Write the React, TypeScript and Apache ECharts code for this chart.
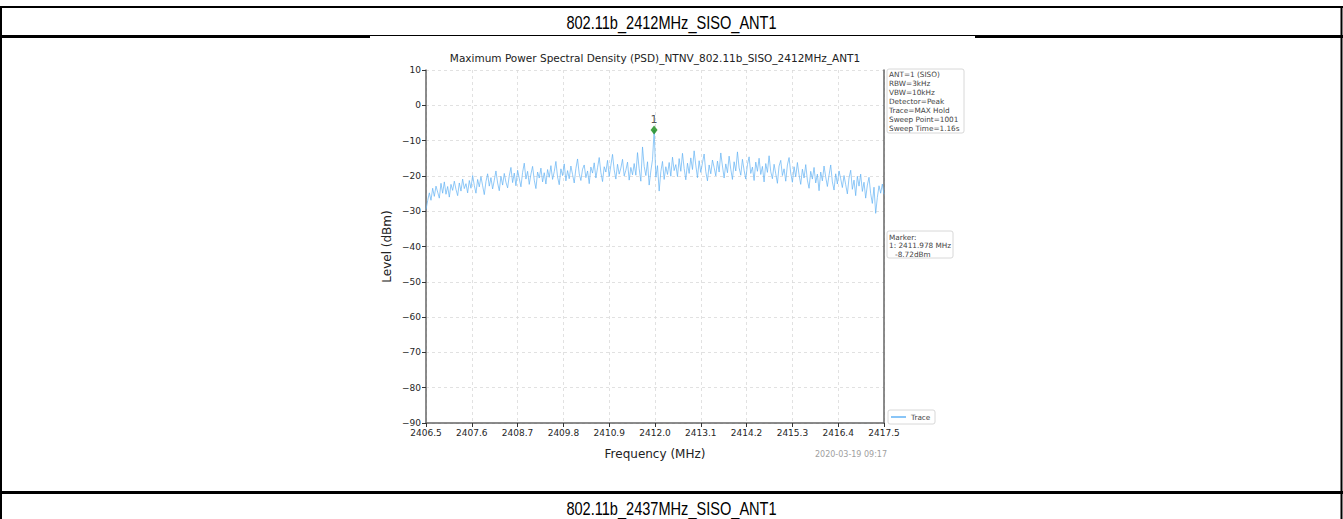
import React, { useEffect, useRef } from "react";
import * as echarts from "echarts";

// ---- data ----
const startFreq = 2406.5; // MHz
const stopFreq = 2417.5; // MHz
const xTickStep = 1.1; // MHz
const yMin = -90;
const yMax = 10;
const yStep = 10;

// Trace level (dBm), evenly spaced sweep points from startFreq to stopFreq
const traceLevels: number[] = [
  -29.5, -27.0, -24.8, -26.9, -23.5, -25.8, -22.9, -24.6, -26.3, -22.1, -24.9, -21.7, -25.2, -23.0, -26.0, -22.4, -24.1, -21.5, -23.8, -25.6, -22.0, -24.3, -20.9, -23.6, -22.2,
  -24.8, -21.3, -23.5, -19.9, -22.7, -24.9, -21.0, -23.1, -20.2, -22.8, -25.3, -21.6, -19.4, -22.9, -20.5, -23.7, -21.2, -18.6, -22.0, -24.2, -20.1, -22.6, -19.3, -21.8, -23.4,
  -20.0, -17.6, -21.9, -19.2, -22.8, -18.4, -20.7, -23.1, -19.0, -16.4, -20.9, -18.7, -22.4, -19.5, -17.3, -21.2, -23.6, -18.9, -20.6, -17.8, -21.7, -19.1, -22.3, -18.2, -20.4,
  -17.1, -21.0, -18.8, -15.9, -20.3, -22.5, -18.0, -19.9, -16.6, -21.4, -18.5, -20.8, -17.2, -19.6, -22.0, -17.9, -15.2, -19.4, -21.3, -18.1, -16.9, -20.5, -18.6, -22.2, -17.5,
  -19.2, -16.3, -20.6, -17.7, -14.8, -19.0, -21.6, -17.4, -18.9, -15.6, -20.2, -17.0, -13.9, -18.3, -20.9, -16.7, -19.5, -17.8, -15.3, -20.0, -18.4, -16.1, -21.2, -17.6, -19.7,
  -16.5, -19.8, -13.4, -18.0, -21.5, -11.8, -17.3, -19.9, -16.0, -22.6, -18.6, -15.4, -7.0, -20.4, -17.1, -24.3, -18.8, -15.9, -21.0, -17.4, -19.6, -16.2, -20.1, -14.7, -18.5,
  -16.8, -20.2, -15.1, -18.7, -13.6, -17.9, -21.1, -16.4, -19.3, -14.9, -18.2, -12.9, -17.0, -20.5, -15.7, -19.0, -16.3, -13.8, -18.8, -21.4, -16.9, -19.4, -15.5, -17.6, -20.0,
  -15.8, -18.9, -13.5, -17.2, -20.6, -16.6, -19.1, -14.4, -18.1, -21.0, -16.0, -18.6, -13.2, -17.7, -19.8, -15.3, -18.4, -20.9, -16.8, -14.6, -19.3, -17.5, -21.3, -16.1, -18.7,
  -15.0, -19.6, -17.3, -21.7, -16.5, -19.0, -14.3, -18.8, -20.8, -16.7, -19.4, -22.1, -17.2, -15.6, -19.9, -18.0, -21.5, -16.9, -14.8, -19.2, -21.8, -17.4, -20.3, -16.2, -19.7,
  -22.4, -18.1, -20.6, -16.8, -21.2, -23.5, -18.7, -20.9, -17.6, -22.0, -19.5, -24.2, -18.9, -21.4, -17.2, -20.3, -23.0, -19.8, -16.9, -21.7, -24.0, -19.4, -22.3, -18.6, -20.8,
  -23.3, -19.9, -22.5, -25.1, -20.6, -18.4, -23.8, -21.2, -25.6, -20.1, -22.9, -19.5, -24.4, -21.8, -26.3, -22.6, -20.4, -25.0, -27.8, -23.2, -30.6, -26.1, -22.8, -24.9, -22.3, -25.2,
];

const markerFreq = 2411.978; // MHz
const markerDotLevel = -7.0; // dBm (where the dot is drawn)
const markerLabel = "1";

const headerTop = "802.11b_2412MHz_SISO_ANT1";
const headerBottom = "802.11b_2437MHz_SISO_ANT1";
const chartTitle = "Maximum Power Spectral Density (PSD)_NTNV_802.11b_SISO_2412MHz_ANT1";
const infoLines = [
  "ANT=1 (SISO)",
  "RBW=3kHz",
  "VBW=10kHz",
  "Detector=Peak",
  "Trace=MAX Hold",
  "Sweep Point=1001",
  "Sweep Time=1.16s",
];
const markerLines = ["Marker:", "1: 2411.978 MHz", "-8.72dBm"];
const legendName = "Trace";
const timestamp = "2020-03-19 09:17";
const xName = "Frequency (MHz)";
const yName = "Level (dBm)";

const W = 1343;
const H = 519;
const TRACE_COLOR = "#62b2f4";
const FONT = "DejaVu Sans";

export default function App() {
  const ref = useRef<HTMLDivElement>(null);

  useEffect(() => {
    if (!ref.current) return;
    const chart = echarts.init(ref.current, undefined, { renderer: "svg" });

    const span = stopFreq - startFreq;
    const n = traceLevels.length;
    const traceData = traceLevels.map((v, i) => [(i * span) / (n - 1), v]);

    const gridLeft = 426;
    const gridTop = 70;
    const gridW = 458;
    const gridH = 353;

    const fmtNum = (v: number) => (v < 0 ? "\u2212" + Math.abs(v) : String(v));

    const lineEl = (x1: number, y1: number, x2: number, y2: number, w: number, color = "#000") => ({
      type: "line",
      shape: { x1, y1, x2, y2 },
      style: { stroke: color, lineWidth: w },
      silent: true,
    });

    const txt = (
      x: number,
      y: number,
      text: string,
      size: number,
      color: string,
      align = "left",
      family = FONT,
      scaleX = 1
    ) => ({
      type: "text",
      x,
      y,
      scaleX,
      style: {
        text,
        fontSize: size,
        fill: color,
        fontFamily: family,
        align,
        verticalAlign: "middle",
      },
      silent: true,
    });

    const graphics: any[] = [
      // table borders
      lineEl(0, 7, W, 7, 2),
      lineEl(1, 6, 1, H, 2),
      lineEl(W - 1.5, 6, W - 1.5, H, 2),
      lineEl(0, 35.5, W, 35.5, 1),
      lineEl(0, 37, 370, 37, 2),
      lineEl(975, 37, W, 37, 2),
      lineEl(0, 492.5, W, 492.5, 3),
      txt(W / 2, 22, headerTop, 18, "#000", "center", "Liberation Sans", 0.81),
      txt(W / 2, 508, headerBottom, 18, "#000", "center", "Liberation Sans", 0.81),
      // chart title
      txt(gridLeft + gridW / 2, 58, chartTitle, 10.5, "#222", "center"),
      // info box
      {
        type: "rect",
        shape: { x: 887, y: 69, width: 77, height: 64, r: 2 },
        style: { fill: "#fff", stroke: "#d8d8d8", lineWidth: 1 },
        silent: true,
      },
      ...infoLines.map((t, i) => txt(889, 74 + i * 9, t, 7.3, "#444")),
      // marker box
      {
        type: "rect",
        shape: { x: 887, y: 231, width: 66, height: 27, r: 2 },
        style: { fill: "#fff", stroke: "#d8d8d8", lineWidth: 1 },
        silent: true,
      },
      txt(889, 237, markerLines[0], 7.3, "#444"),
      txt(889, 245.5, markerLines[1], 7.3, "#444"),
      txt(895, 254, markerLines[2], 7.3, "#444"),
      // legend box
      {
        type: "rect",
        shape: { x: 888, y: 410, width: 47, height: 14, r: 2 },
        style: { fill: "#fff", stroke: "#d8d8d8", lineWidth: 1 },
        silent: true,
      },
      lineEl(891, 417, 906, 417, 1.5, TRACE_COLOR),
      txt(911, 417, legendName, 7.3, "#444"),
      // timestamp
      txt(851, 454, timestamp, 8, "#a0a0a0", "center"),
    ];

    chart.setOption({
      animation: false,
      backgroundColor: "#ffffff",
      grid: { left: gridLeft, top: gridTop, width: gridW, height: gridH, containLabel: false },
      xAxis: {
        type: "value",
        min: 0,
        max: span,
        interval: xTickStep,
        name: xName,
        nameLocation: "middle",
        nameGap: 25,
        nameTextStyle: { fontSize: 12, color: "#222", fontFamily: FONT },
        axisLine: { show: true, onZero: false, lineStyle: { color: "#666", width: 1.5 } },
        axisTick: { show: true, inside: false, length: 4, lineStyle: { color: "#333", width: 1 } },
        axisLabel: {
          fontSize: 9,
          color: "#262626",
          fontFamily: FONT,
          margin: 5,
          formatter: (v: number) => (startFreq + v).toFixed(1),
        },
        splitLine: { show: true, lineStyle: { color: "#d9d9d9", type: [3, 3], width: 0.8 } },
      },
      yAxis: [
        {
          type: "value",
          min: yMin,
          max: yMax,
          interval: yStep,
          name: yName,
          nameLocation: "middle",
          nameGap: 33,
          nameTextStyle: { fontSize: 12, color: "#222", fontFamily: FONT },
          axisLine: { show: true, onZero: false, lineStyle: { color: "#666", width: 1.5 } },
          axisTick: { show: true, inside: false, length: 4, lineStyle: { color: "#333", width: 1 } },
          axisLabel: { fontSize: 9, color: "#262626", fontFamily: FONT, margin: 5, formatter: fmtNum },
          splitLine: { show: true, lineStyle: { color: "#d9d9d9", type: [3, 3], width: 0.8 } },
        },
        {
          type: "value",
          position: "right",
          min: yMin,
          max: yMax,
          interval: yStep,
          axisLine: { show: true, onZero: false, lineStyle: { color: "#666", width: 1.5 } },
          axisTick: { show: false },
          axisLabel: { show: false },
          splitLine: { show: false },
        },
      ],
      series: [
        {
          type: "line",
          name: legendName,
          data: traceData,
          showSymbol: false,
          symbol: "none",
          lineStyle: { color: TRACE_COLOR, width: 0.7 },
          z: 2,
        },
        {
          type: "scatter",
          data: [[markerFreq - startFreq, markerDotLevel]],
          symbol: "diamond",
          symbolSize: [7, 9],
          itemStyle: { color: "#168a16" },
          label: {
            show: true,
            position: "top",
            distance: 1,
            formatter: markerLabel,
            fontSize: 11,
            color: "#222",
            fontFamily: FONT,
          },
          z: 5,
        },
      ],
      graphic: graphics,
    });

    return () => {
      chart.dispose();
    };
  }, []);

  return (
    <div
      ref={ref}
      style={{ position: "absolute", left: 0, top: 0, width: W, height: H, background: "#fff" }}
    />
  );
}
